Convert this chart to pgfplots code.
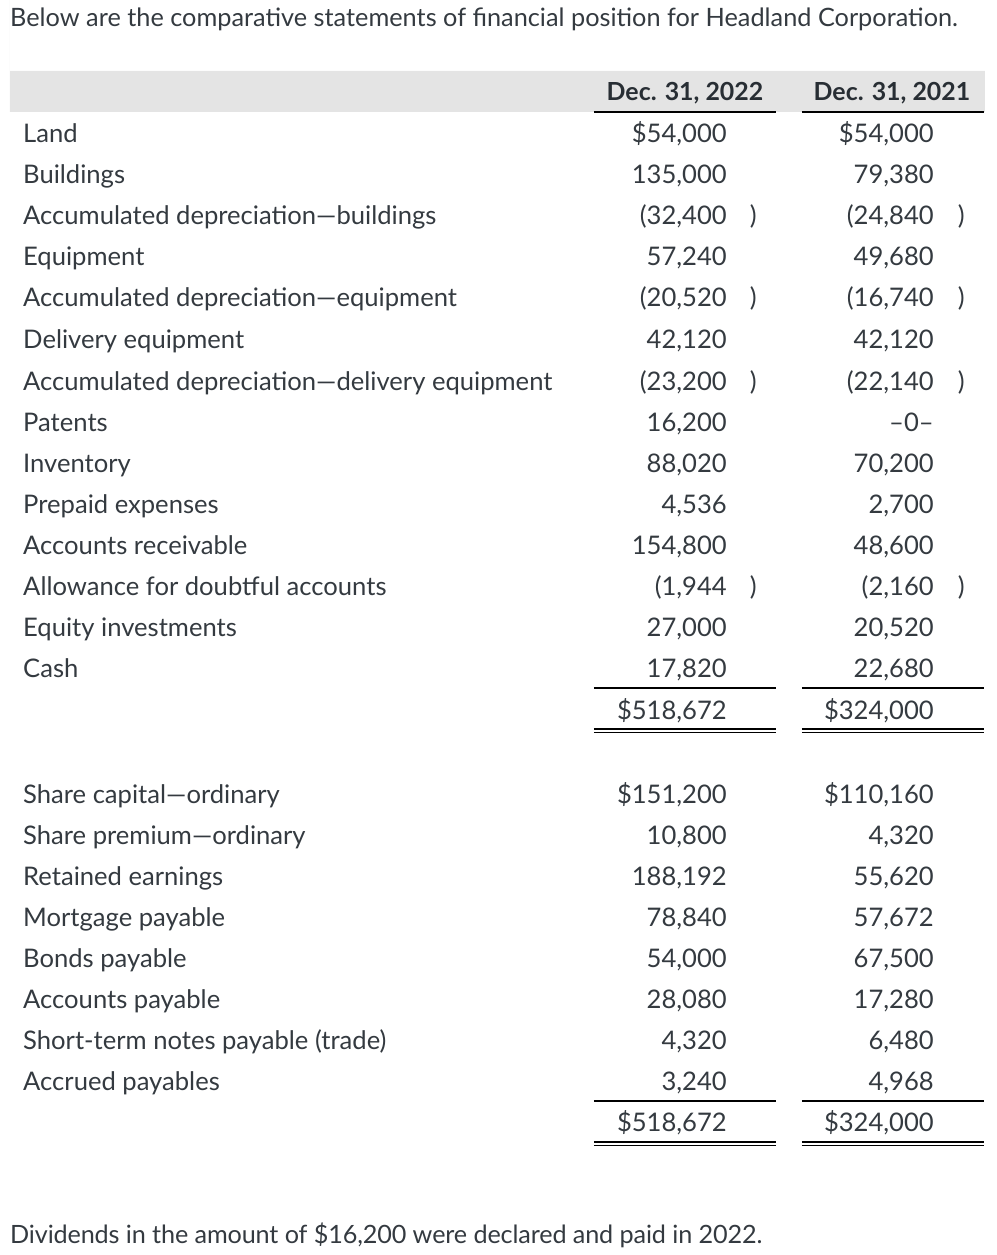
\documentclass[border=0pt]{standalone}
\usepackage{fontspec}
\setmainfont{Lato}
\usepackage{pgfplots}
\usepackage{pgfplotstable}
\pgfplotsset{compat=1.18}
\definecolor{txt}{RGB}{52,58,64}
\definecolor{hdr}{RGB}{40,46,52}
\definecolor{band}{RGB}{228,228,228}

\pgfplotstableread[col sep=semicolon]{
y;lab
142;Land
183;Buildings
224;Accumulated depreciation—buildings
265;Equipment
306;Accumulated depreciation—equipment
347;Delivery equipment
389;Accumulated depreciation—delivery equipment
430;Patents
471;Inventory
512;Prepaid expenses
553;Accounts receivable
594;Allowance for doubtful accounts
635;Equity investments
676;Cash
802;Share capital—ordinary
843;Share premium—ordinary
884;Retained earnings
925;Mortgage payable
966;Bonds payable
1007;Accounts payable
1048;Short-term notes payable (trade)
1089;Accrued payables
}\labels

\pgfplotstableread[col sep=semicolon]{
y;a;b
142;\$54,000;\$54,000
183;135,000;79,380
224;(32,400;(24,840
265;57,240;49,680
306;(20,520;(16,740
347;42,120;42,120
389;(23,200;(22,140
430;16,200;–0–
471;88,020;70,200
512;4,536;2,700
553;154,800;48,600
594;(1,944;(2,160
635;27,000;20,520
676;17,820;22,680
718;\$518,672;\$324,000
802;\$151,200;\$110,160
843;10,800;4,320
884;188,192;55,620
925;78,840;57,672
966;54,000;67,500
1007;28,080;17,280
1048;4,320;6,480
1089;3,240;4,968
1130;\$518,672;\$324,000
}\values

\pgfplotstableread[col sep=semicolon]{
y;p
224;)
306;)
389;)
594;)
}\parens

\begin{document}
\begin{tikzpicture}
\begin{axis}[
  width=997bp, height=1255bp, scale only axis,
  xmin=0, xmax=997, ymin=0, ymax=1255, y dir=reverse,
  axis lines=none, clip=false,
  every node near coord/.append style={anchor=base east, inner sep=0pt, text=txt,
    font=\fontsize{25.6bp}{30bp}\selectfont},
]
% bounding box
\addplot[draw=none, forget plot] coordinates {(0,0) (997,1255)};
% header band
\addplot[draw=none, fill=band, forget plot] coordinates {(10,71) (985,71) (985,112) (10,112)} \closedcycle;
% rules
\addplot[black, line width=1.4bp] coordinates {(594,112) (776,112)};
\addplot[black, line width=1.4bp] coordinates {(802,112) (984,112)};
\addplot[black, line width=1.2bp] coordinates {(594,688) (776,688)};
\addplot[black, line width=1.2bp] coordinates {(802,688) (984,688)};
\addplot[black, line width=1.1bp] coordinates {(594,729) (776,729)};
\addplot[black, line width=1.1bp] coordinates {(802,729) (984,729)};
\addplot[black, line width=1.1bp] coordinates {(594,732.5) (776,732.5)};
\addplot[black, line width=1.1bp] coordinates {(802,732.5) (984,732.5)};
\addplot[black, line width=1.2bp] coordinates {(594,1101) (776,1101)};
\addplot[black, line width=1.2bp] coordinates {(802,1101) (984,1101)};
\addplot[black, line width=1.1bp] coordinates {(594,1142) (776,1142)};
\addplot[black, line width=1.1bp] coordinates {(802,1142) (984,1142)};
\addplot[black, line width=1.1bp] coordinates {(594,1145.5) (776,1145.5)};
\addplot[black, line width=1.1bp] coordinates {(802,1145.5) (984,1145.5)};
% row labels
\addplot[draw=none, nodes near coords, point meta=explicit symbolic,
  every node near coord/.append style={anchor=base west}]
  table[x expr=23, y expr=\thisrow{y}+1, meta=lab] {\labels};
% values
\addplot[draw=none, nodes near coords, point meta=explicit symbolic]
  table[x expr=727, y expr=\thisrow{y}+1, meta=a] {\values};
\addplot[draw=none, nodes near coords, point meta=explicit symbolic]
  table[x expr=934, y expr=\thisrow{y}+1, meta=b] {\values};
\addplot[draw=none, nodes near coords, point meta=explicit symbolic]
  table[x expr=757, y expr=\thisrow{y}+1, meta=p] {\parens};
\addplot[draw=none, nodes near coords, point meta=explicit symbolic]
  table[x expr=965, y expr=\thisrow{y}+1, meta=p] {\parens};
% header, title and note
\node[anchor=base, inner sep=0pt, text=hdr, font=\fontsize{24.9bp}{30bp}\selectfont\bfseries]
  at (axis cs:685,101) {Dec. 31, 2022};
\node[anchor=base, inner sep=0pt, text=hdr, font=\fontsize{24.9bp}{30bp}\selectfont\bfseries]
  at (axis cs:892,101) {Dec. 31, 2021};
\node[anchor=base west, inner sep=0pt, text=txt, font=\fontsize{25.3bp}{30bp}\selectfont]
  at (axis cs:10,27) {Below are the comparative statements of financial position for Headland Corporation.};
\node[anchor=base west, inner sep=0pt, text=txt, font=\fontsize{25.2bp}{30bp}\selectfont\addfontfeatures{LetterSpace=-0.55}]
  at (axis cs:10,1243) {Dividends in the amount of \$16,200 were declared and paid in 2022.};
\end{axis}
\end{tikzpicture}
\end{document}
